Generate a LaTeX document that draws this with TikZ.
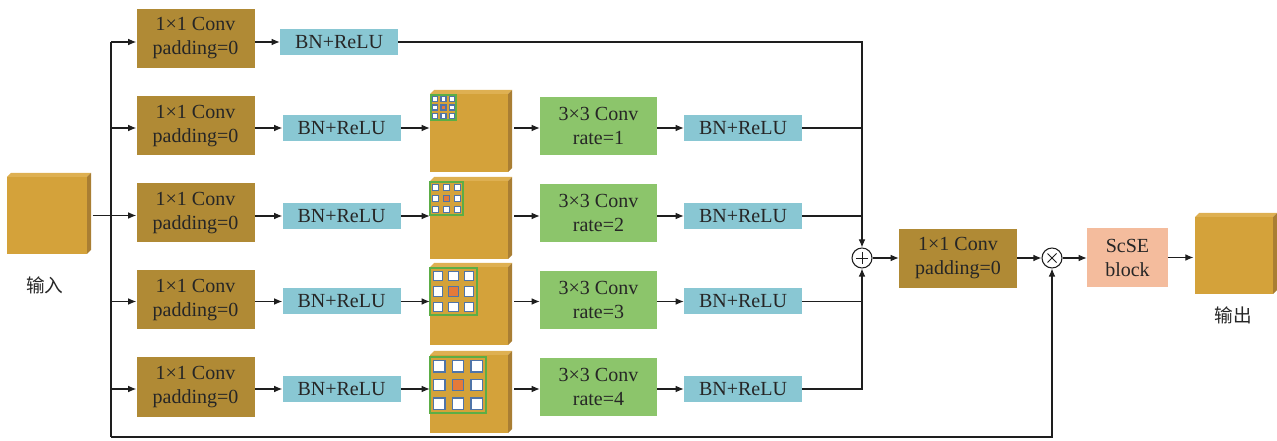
\documentclass[tikz,border=0pt]{standalone}
\usepackage{fontspec}
\setmainfont{Liberation Serif}
\newfontfamily\cjk{Noto Sans CJK SC}
\usetikzlibrary{arrows.meta,calc,fit}
\definecolor{cubefront}{HTML}{D4A23A}
\definecolor{cubetop}{HTML}{DEB052}
\definecolor{cubeside}{HTML}{A97E33}
\definecolor{convbrown}{HTML}{B08A35}
\definecolor{bncyan}{HTML}{89C7D3}
\definecolor{convgreen}{HTML}{8CC56B}
\definecolor{scsecol}{HTML}{F4BC9D}
\definecolor{gridgreen}{HTML}{5BAE46}
\definecolor{sqblue}{HTML}{4F74A8}
\definecolor{sqorange}{HTML}{E57A3A}
\definecolor{txt}{HTML}{262626}
\definecolor{ln}{HTML}{1E1E1E}

\newcommand\mycube[5]{%
  \fill[cubetop] (#2,#3) -- (#2+4,#3-4) -- (#4+4,#3-4) -- (#4,#3) -- cycle;
  \fill[cubeside] (#4,#3) -- (#4+4,#3-4) -- (#4+4,#5-4) -- (#4,#5) -- cycle;
  \node[cubeface, fit={(#2,#3) (#4,#5)}] (#1) {};
}
\newcommand\mygrid[3]{%
  \draw[gridgreen, line width=1.1pt] (#1,#2) rectangle ++(#3,#3);
  \foreach \i in {1,3,5} {
    \foreach \j in {1,3,5} {
      \draw[sqblue, fill=white, line width=0.9pt]
        ({#1+#3*\i/6-#3/10},{#2+#3*\j/6-#3/10}) rectangle ++({#3/5},{#3/5});
    }
  }
  \draw[sqblue, fill=sqorange, line width=0.9pt]
    ({#1+#3/2-#3/10},{#2+#3/2-#3/10}) rectangle ++({#3/5},{#3/5});
}

\begin{document}
\begin{tikzpicture}[x=0.75pt,y=-0.75pt,
  box/.style={inner sep=0pt, align=center, text=txt, font=\fontsize{15}{18}\selectfont},
  convone/.style={box, fill=convbrown, minimum width=88.5pt, minimum height=44.25pt},
  bnbox/.style={box, fill=bncyan, minimum width=88.5pt, minimum height=19.5pt},
  convthree/.style={box, fill=convgreen, minimum width=87.75pt, minimum height=43.5pt},
  scsebox/.style={box, fill=scsecol, minimum width=60.75pt, minimum height=44.25pt},
  cubeface/.style={inner sep=0pt, fill=cubefront},
  opcirc/.style={circle, draw=ln, line width=0.8pt, minimum size=15pt, inner sep=0pt, fill=white},
  conn/.style={draw=ln, line width=0.8pt},
  arr/.style={conn, -{Latex[length=6pt,width=5pt]}},
  lbl/.style={font=\cjk\fontsize{14}{16}\selectfont, text=txt}
]
\useasboundingbox (0,0) rectangle (1277,441);

% input / output cubes
\mycube{in}{7}{177}{87}{254}
\node[lbl] (lin) at (45,285) {输入};
\mycube{out}{1195}{217}{1273}{294}
\node[lbl] (lout) at (1233,315) {输出};

% row 1
\node[convone] (c1) at (195.5,38.5) {1×1 Conv\\padding=0};
\node[bnbox] (b1) at (339,42) {BN+ReLU};

% rows 2-5
\node[convone] (c2) at (195.5,126) {1×1 Conv\\padding=0};
\node[convone] (c3) at (195.5,213) {1×1 Conv\\padding=0};
\node[convone] (c4) at (195.5,300) {1×1 Conv\\padding=0};
\node[convone] (c5) at (195.5,387) {1×1 Conv\\padding=0};

\node[bnbox] (b2) at (341.5,128) {BN+ReLU};
\node[bnbox] (b3) at (341.5,216) {BN+ReLU};
\node[bnbox] (b4) at (341.5,301.5) {BN+ReLU};
\node[bnbox] (b5) at (341.5,389) {BN+ReLU};

\mycube{f2}{430}{94}{508}{172}
\mycube{f3}{430}{181}{508}{259}
\mycube{f4}{430}{267}{508}{345}
\mycube{f5}{430}{355}{508}{433}
\mygrid{431}{95}{25}
\mygrid{430}{182}{33}
\mygrid{430}{268}{47}
\mygrid{430}{357}{56}

\node[convthree] (k2) at (598.5,126) {3×3 Conv\\rate=1};
\node[convthree] (k3) at (598.5,213) {3×3 Conv\\rate=2};
\node[convthree] (k4) at (598.5,300) {3×3 Conv\\rate=3};
\node[convthree] (k5) at (598.5,387) {3×3 Conv\\rate=4};

\node[bnbox] (d2) at (743,128) {BN+ReLU};
\node[bnbox] (d3) at (743,216) {BN+ReLU};
\node[bnbox] (d4) at (743,301.5) {BN+ReLU};
\node[bnbox] (d5) at (743,389) {BN+ReLU};

% merge and tail
\node[opcirc] (plus) at (862,258) {};
\draw[ln, line width=0.7pt] ($(plus.center)+(-6,0)$) -- ($(plus.center)+(6,0)$)
  ($(plus.center)+(0,-6)$) -- ($(plus.center)+(0,6)$);
\node[convone] (fc) at (958,258.5) {1×1 Conv\\padding=0};
\node[opcirc] (times) at (1052,258) {};
\draw[ln, line width=0.7pt] ($(times.center)+(-4.5,-4.5)$) -- ($(times.center)+(4.5,4.5)$)
  ($(times.center)+(-4.5,4.5)$) -- ($(times.center)+(4.5,-4.5)$);
\node[scsebox] (se) at (1127.5,257.5) {ScSE\\block};

% left distribution
\coordinate (v1) at (111,42);
\coordinate (v2) at (111,128);
\coordinate (v4) at (111,301.5);
\coordinate (v5) at (111,389);
\coordinate (vb) at (111,437);
\draw[conn] (v1) -- (vb);
\draw[arr] (v1) -- (v1 -| c1.west);
\draw[arr] (v2) -- (v2 -| c2.west);
\draw[arr] ([xshift=4pt]in.east) -- (c3.west |- in.east);
\draw[arr] (v4) -- (v4 -| c4.west);
\draw[arr] (v5) -- (v5 -| c5.west);

% conv -> bn
\draw[arr] (b1.west -| c1.east) -- (b1.west);
\foreach \r in {2,3,4,5} {
  \draw[arr] (b\r.west -| c\r.east) -- (b\r.west);
  \draw[arr] (b\r.east) -- (b\r.east -| f\r.west);
  \draw[arr] ($(f\r.east |- b\r.east)+(6,0)$) -- (k\r.west |- b\r.east);
  \draw[arr] (k\r.east |- d\r.west) -- (d\r.west);
}

% to plus
\draw[arr] (b1.east) -| (plus.north);
\draw[conn] (d2.east) -- (d2.east -| plus.center);
\draw[conn] (d3.east) -- (d3.east -| plus.center);
\draw[conn] (d4.east) -- (d4.east -| plus.center);
\draw[arr] (d5.east) -| (plus.south);

% tail
\draw[arr] (plus.east) -- (fc.west |- plus.east);
\draw[arr] (fc.east |- times.west) -- (times.west);
\draw[arr] (times.east) -- (se.west |- times.east);
\draw[arr] (se.east) -- ([xshift=-1pt]out.west |- se.east);
\draw[arr] (vb) -| (times.south);
\end{tikzpicture}
\end{document}
